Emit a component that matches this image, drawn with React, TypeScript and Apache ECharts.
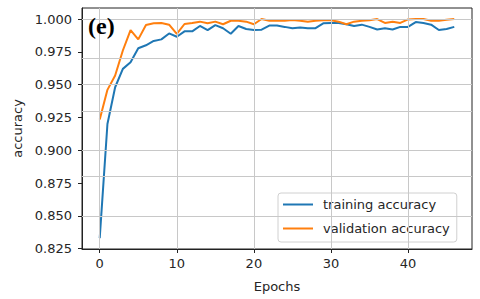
import React, { useEffect, useRef } from "react";
import * as echarts from "echarts";

const epochs: number[] = Array.from({ length: 47 }, (_, i) => i);
const trainingAccuracy: number[] = [
  0.833, 0.92, 0.948, 0.962, 0.967, 0.9777, 0.98, 0.9833, 0.9845, 0.989,
  0.9865, 0.9906, 0.9906, 0.9947, 0.9916, 0.9954, 0.993, 0.9888, 0.9947, 0.9924,
  0.9916, 0.9919, 0.995, 0.995, 0.994, 0.9929, 0.9936, 0.993, 0.993, 0.9967,
  0.997, 0.997, 0.996, 0.9947, 0.9957, 0.994, 0.992, 0.9929, 0.992, 0.994,
  0.994, 0.9977, 0.997, 0.9957, 0.9916, 0.9924, 0.994,
];
const validationAccuracy: number[] = [
  0.9235, 0.946, 0.957, 0.976, 0.9916, 0.9845, 0.9954, 0.9967, 0.997, 0.9957,
  0.9886, 0.9962, 0.997, 0.998, 0.9967, 0.998, 0.996, 0.9987, 0.9987, 0.998,
  0.996, 1.0, 0.9987, 0.9987, 0.9987, 0.9992, 0.9987, 0.998, 0.9987, 0.999,
  0.999, 0.998, 0.996, 0.998, 0.9987, 0.999, 1.0, 0.997, 0.998, 0.997,
  0.9997, 1.0, 1.0, 0.9987, 0.9987, 0.9995, 1.0,
];
const xTicks: number[] = [0, 10, 20, 30, 40];
const yTicks: number[] = [0.825, 0.85, 0.875, 0.9, 0.925, 0.95, 0.975, 1.0];
const seriesNames: string[] = ["training accuracy", "validation accuracy"];
const panelLabel = "(e)";

export default function App() {
  const ref = useRef<HTMLDivElement>(null);
  useEffect(() => {
    if (!ref.current) return;
    const chart = echarts.init(ref.current, undefined, { renderer: "svg" });
    const font = "DejaVu Sans";
    const textColor = "#262626";
    const gridMarks = [
      ...xTicks.map((v) => ({ xAxis: v })),
      ...yTicks.map((v) => ({ yAxis: v })),
    ];
    chart.setOption({
      animation: false,
      backgroundColor: "#ffffff",
      grid: {
        left: 82,
        right: 8,
        top: 8,
        bottom: 50,
        show: true,
        borderColor: "#222",
        borderWidth: 1,
        backgroundColor: "transparent",
      },
      legend: {
        orient: "vertical",
        left: 278,
        top: 193,
        data: seriesNames,
        itemWidth: 30,
        itemHeight: 12,
        itemGap: 11,
        padding: [5, 7, 7, 4],
        backgroundColor: "rgba(255,255,255,0.85)",
        borderColor: "#d0d0d0",
        borderWidth: 1,
        borderRadius: 3,
        itemStyle: { opacity: 0 },
        textStyle: {
          fontFamily: font,
          fontSize: 13,
          color: textColor,
          padding: [0, 0, 0, 5],
        },
      },
      graphic: [
        {
          type: "text",
          left: 88,
          top: 14,
          z: 100,
          style: {
            text: panelLabel,
            font: "bold 24px 'Liberation Serif'",
            fill: "#000",
          },
        },
      ],
      xAxis: {
        type: "value",
        min: -2.3,
        max: 48.3,
        name: "Epochs",
        nameLocation: "middle",
        nameGap: 31,
        nameTextStyle: { fontFamily: font, fontSize: 13, color: textColor },
        axisLine: { show: true, onZero: false, lineStyle: { color: "#222", width: 1 } },
        axisTick: {
          show: true,
          inside: false,
          length: 4,
          lineStyle: { color: "#222" },
          customValues: xTicks,
        },
        axisLabel: {
          fontFamily: font,
          fontSize: 13,
          color: textColor,
          margin: 8,
          customValues: xTicks,
          formatter: (v: number) => String(Math.round(v)),
        },
        splitLine: { show: false },
      },
      yAxis: {
        type: "value",
        min: 0.8247,
        max: 1.0084,
        name: "accuracy",
        nameLocation: "middle",
        nameGap: 57,
        nameTextStyle: { fontFamily: font, fontSize: 13, color: textColor },
        axisLine: { show: true, onZero: false, lineStyle: { color: "#222", width: 1 } },
        axisTick: {
          show: true,
          inside: false,
          length: 4,
          lineStyle: { color: "#222" },
          customValues: yTicks,
        },
        axisLabel: {
          fontFamily: font,
          fontSize: 13,
          color: textColor,
          margin: 10,
          customValues: yTicks,
          formatter: (v: number) => v.toFixed(3),
        },
        splitLine: { show: false },
      },
      series: [
        {
          name: "grid",
          type: "line",
          data: [],
          z: 1,
          silent: true,
          markLine: {
            silent: true,
            symbol: ["none", "none"],
            label: { show: false },
            lineStyle: { color: "#c8c8c8", width: 1, type: "solid" },
            data: gridMarks,
          },
        },
        {
          name: seriesNames[0],
          type: "line",
          z: 3,
          data: epochs.map((e, i) => [e, trainingAccuracy[i]]),
          symbol: "none",
          lineStyle: { color: "#1f77b4", width: 2 },
          itemStyle: { color: "#1f77b4" },
        },
        {
          name: seriesNames[1],
          type: "line",
          z: 3,
          data: epochs.map((e, i) => [e, validationAccuracy[i]]),
          symbol: "none",
          lineStyle: { color: "#ff7f0e", width: 2 },
          itemStyle: { color: "#ff7f0e" },
        },
      ],
    });
    return () => chart.dispose();
  }, []);
  return (
    <div
      ref={ref}
      style={{ position: "fixed", left: 0, top: 0, width: 480, height: 299 }}
    />
  );
}
